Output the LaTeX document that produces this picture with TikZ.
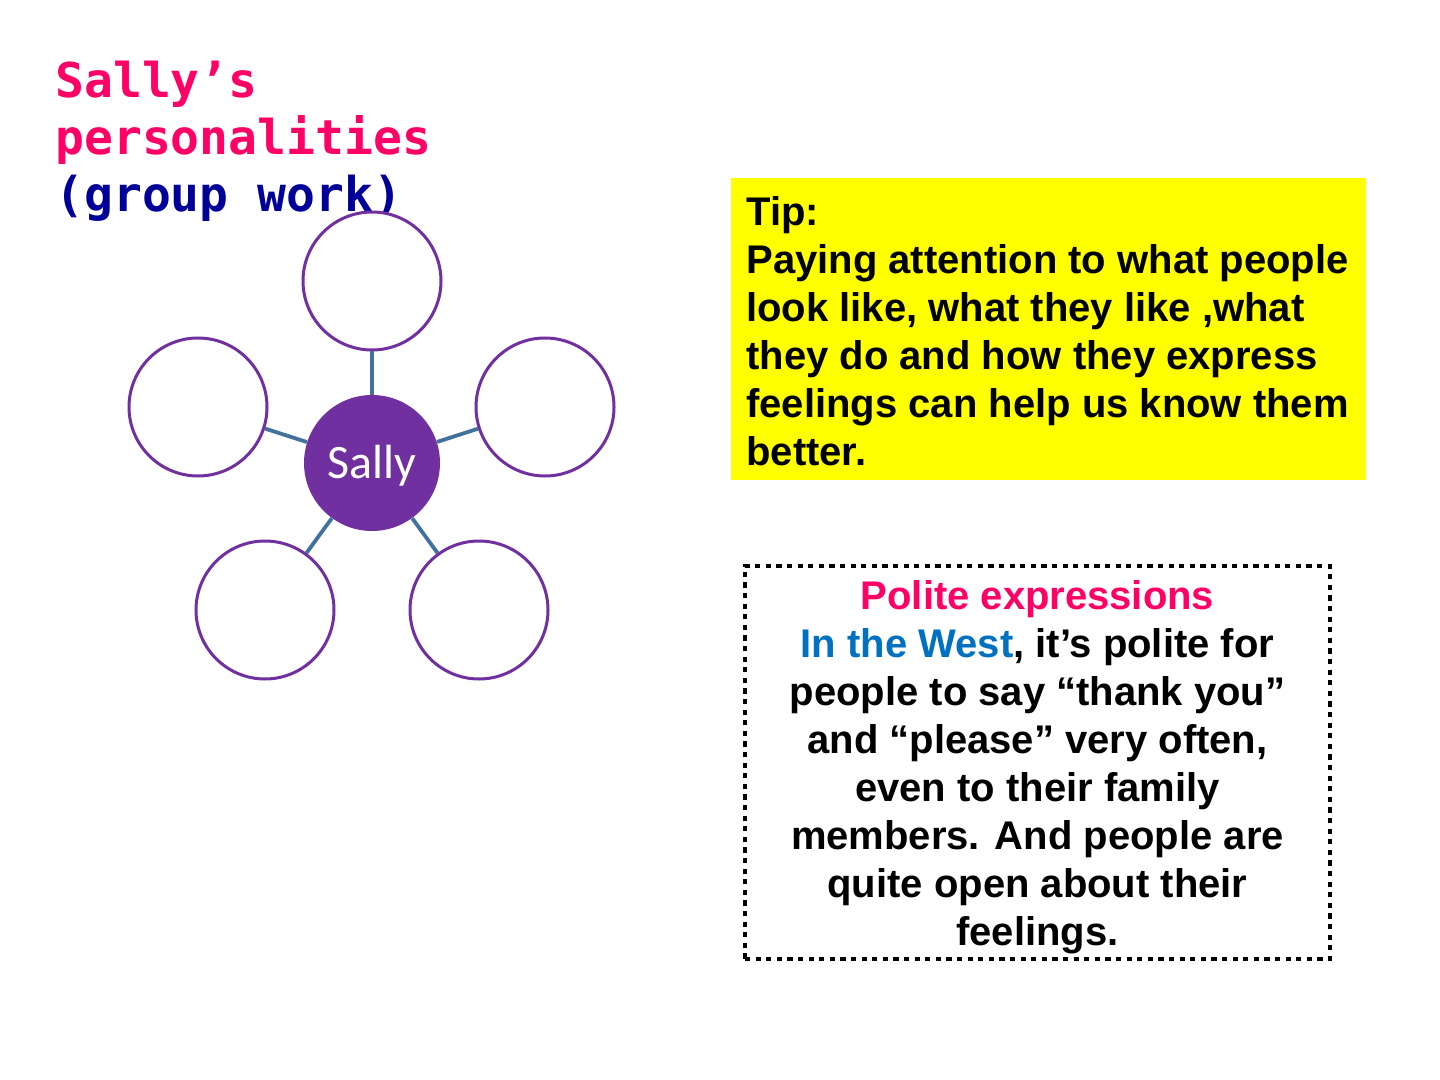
\documentclass[tikz,border=0pt]{standalone}
\usepackage{fontspec}
\setmainfont{Liberation Sans}
\newfontfamily\monofont{DejaVu Sans Mono}
\newfontfamily\calfont{Carlito}
\definecolor{titlepink}{HTML}{FF0066}
\definecolor{titlenavy}{HTML}{000099}
\definecolor{sallypurple}{HTML}{7030A0}
\definecolor{connblue}{HTML}{41719C}
\definecolor{westblue}{HTML}{0070C0}
\definecolor{tipyellow}{HTML}{FFFF00}
\tikzset{
  outer/.style={circle,draw=sallypurple,line width=1.5pt,minimum size=69pt,inner sep=0pt,fill=white},
  center/.style={circle,fill=sallypurple,minimum size=68pt,inner sep=0pt,text=white,text depth=1.2pt,font=\calfont\fontsize{24}{28}\selectfont},
  conn/.style={draw=connblue,line width=1.9pt},
  bodytext/.style={font=\bfseries\fontsize{20}{24}\selectfont,inner sep=0pt},
}
\begin{document}
\begin{tikzpicture}[x=0.5pt,y=-0.5pt]
\useasboundingbox (0,0) rectangle (1440,1080);
% title
\node[anchor=north west,align=left,inner sep=0pt,font=\monofont\bfseries\fontsize{24}{28.5}\selectfont] (title) at (55,61)
  {\textcolor{titlepink}{Sally’s}\\\textcolor{titlepink}{personalities}\\\textcolor{titlenavy}{(group work)}};
% mind map
\node[center] (sally) at (372,463) {Sally};
\node[outer] (top) at (372,281) {};
\node[outer] (left) at (198,407) {};
\node[outer] (right) at (545,407) {};
\node[outer] (bl) at (265,610) {};
\node[outer] (br) at (479,610) {};
\foreach \n in {top,left,right,bl,br}{\draw[conn] (sally) -- (\n);}
% tip box
\node[fill=tipyellow,minimum width=317.5pt,minimum height=151pt,inner sep=0pt,anchor=north west] (tipbox) at (731,178) {};
\node[bodytext,anchor=north west,align=left] (tiptext) at (746,196)
  {Tip:\\Paying attention to what people\\look like, what they like ,what\\they do and how they express\\feelings can help us know them\\better.};
% polite box
\node[draw,line width=2.4pt,dash pattern=on 2.6pt off 2.7pt,minimum width=292.5pt,minimum height=196.5pt,inner sep=0pt] (polite) at (1037.5,762.5) {};
\node[bodytext,align=center] (politetext) at ([yshift=-2.5pt]polite.center)
  {\textcolor{titlepink}{Polite expressions}\\\textcolor{westblue}{In the West}, it’s polite for\\people to say “thank you”\\and “please” very often,\\even to their family\\members. And people are\\quite open about their\\feelings.};
\end{tikzpicture}
\end{document}
